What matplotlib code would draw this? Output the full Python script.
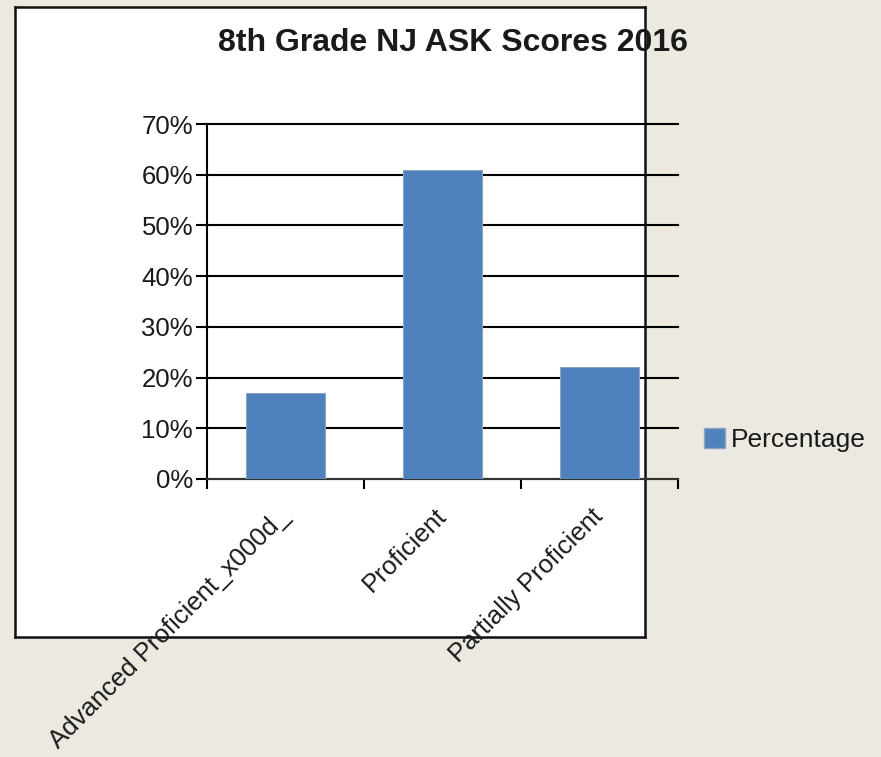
import numpy as np
import matplotlib
matplotlib.use('Agg')
import matplotlib.pyplot as plt
from matplotlib.patches import Patch
from matplotlib.ticker import FixedLocator, FuncFormatter

plt.rcParams['font.family'] = ['Liberation Sans', 'DejaVu Sans']

# 数据
categories = ['Advanced Proficient_x000d_', 'Proficient', 'Partially Proficient']
percentages = [17, 61, 22]
series_name = 'Percentage'
title = '8th Grade NJ ASK Scores 2016'

W, H = 881, 757
fig = plt.figure(figsize=(W / 100, H / 100), dpi=100, facecolor='#ECE9E0')

# 白色图表区域（背景轴）
bg = fig.add_axes([15 / W, 1 - 637 / H, 630 / W, 630 / H])
bg.set_facecolor('white')
bg.set_xticks([])
bg.set_yticks([])
for s in bg.spines.values():
    s.set_linewidth(1.8)
    s.set_color('#111111')
bg.set_zorder(0)

ax = fig.add_axes([207 / W, 1 - 479 / H, 471 / W, 355 / H])
ax.set_zorder(1)
ax.patch.set_visible(False)

x = np.arange(len(categories))
ax.bar(x, percentages, width=0.5, color='#4F81BD', edgecolor='#8EA4C4', linewidth=0.8, zorder=3)

ax.set_xlim(-0.5, len(categories) - 0.5)
ax.set_ylim(0, 70)
ax.set_yticks(np.arange(0, 71, 10))
ax.yaxis.set_major_formatter(FuncFormatter(lambda v, p: f'{int(v)}%'))
ax.yaxis.grid(True, color='black', linewidth=1.5, zorder=1)
ax.set_axisbelow(True)
for gl in ax.get_ygridlines():
    gl.set_clip_on(False)

# 分类边界刻度 + 分类标签
ax.xaxis.set_major_locator(FixedLocator(np.arange(-0.5, len(categories), 1)))
ax.xaxis.set_major_formatter(FuncFormatter(lambda v, p: ''))
ax.xaxis.set_minor_locator(FixedLocator(x))
ax.set_xticklabels(categories, minor=True, rotation=45, ha='right', va='center',
                   rotation_mode='anchor', fontsize=18.5, color='#1a1a1a')
ax.tick_params(axis='x', which='major', length=7, width=1.5, direction='out', color='black')
ax.tick_params(axis='x', which='minor', length=0, pad=24)
ax.tick_params(axis='y', length=8, width=1.5, direction='out', labelsize=18.5,
               labelcolor='#1a1a1a', pad=2)

for s in ['top', 'right']:
    ax.spines[s].set_visible(False)
ax.spines['left'].set_linewidth(1.5)
ax.spines['bottom'].set_linewidth(1.5)
ax.spines['bottom'].set_color('#333333')

fig.text(453 / W, 1 - 43 / H, title, ha='center', va='center', fontsize=23,
         fontweight='bold', color='#1a1a1a', zorder=5)

handle = Patch(facecolor='#4F81BD', edgecolor='#8EA4C4')
fig.legend([handle], [series_name], loc='center left', bbox_to_anchor=(704 / W, 1 - 440 / H),
           frameon=False, fontsize=19, handlelength=0.8, handleheight=0.8, handletextpad=0.2,
           borderaxespad=0, borderpad=0, labelcolor='#1a1a1a')

plt.savefig('out.png', dpi=100, facecolor=fig.get_facecolor())
